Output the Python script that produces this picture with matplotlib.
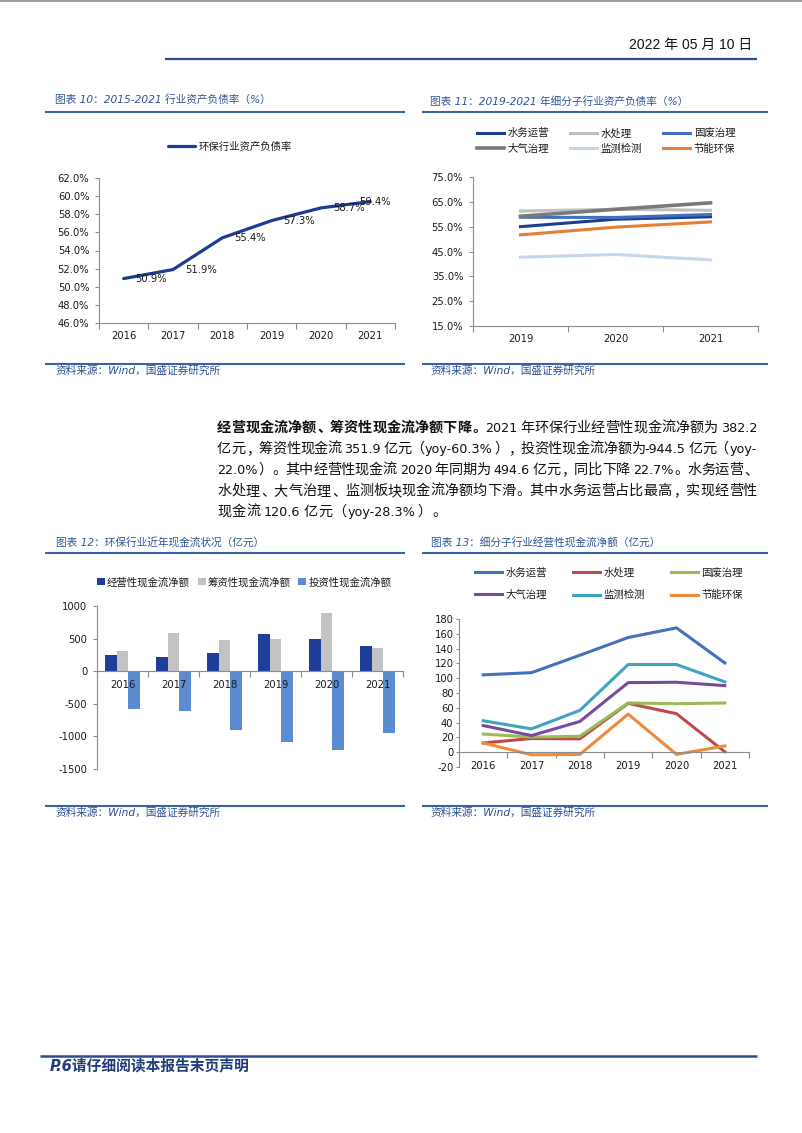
import matplotlib
matplotlib.use('Agg')
import matplotlib.pyplot as plt
from matplotlib.lines import Line2D
from matplotlib.ticker import FuncFormatter
import numpy as np

# ---------------- data ----------------
years = ['2016', '2017', '2018', '2019', '2020', '2021']
industry_debt_ratio = [50.9, 51.9, 55.4, 57.3, 58.7, 59.4]
debt_ratio_label = '环保行业资产负债率'

sub_years = ['2019', '2020', '2021']
sub_names = ['水务运营', '水处理', '固废治理', '大气治理', '监测检测', '节能环保']
ratio_water_ops = [55.0, 58.0, 59.0]
ratio_water_treat = [61.3, 62.0, 61.6]
ratio_solid_waste = [58.8, 58.7, 59.9]
ratio_air = [59.2, 62.0, 64.6]
ratio_monitor = [42.7, 43.8, 41.6]
ratio_energy = [51.7, 54.8, 56.9]

cf_labels = ['经营性现金流净额', '筹资性现金流净额', '投资性现金流净额']
cf_operating = [242, 212, 282, 563, 494.6, 382.2]
cf_financing = [312, 580, 482, 497, 886, 351.9]
cf_investing = [-575, -613, -905, -1090, -1211, -944.5]

cf_water_ops = [104.5, 107.5, 131, 155, 168, 120.6]
cf_water_treat = [12.5, 18.5, 18, 66, 52, 0.5]
cf_solid_waste = [24.5, 20.5, 21.5, 66.5, 65.5, 66.5]
cf_air = [36, 22.5, 41.5, 94, 94.5, 90]
cf_monitor = [42.5, 31.5, 56.5, 118.5, 118.5, 95]
cf_energy = [12.5, -3.5, -3, 51.5, -3, 8.5]

titles = ['图表 10：2015-2021 行业资产负债率（%）',
          '图表 11：2019-2021 年细分子行业资产负债率（%）',
          '图表 12：环保行业近年现金流状况（亿元）',
          '图表 13：细分子行业经营性现金流净额（亿元）']
source_text = '资料来源：Wind，国盛证券研究所'
date_text = '2022 年 05 月 10 日'
footer_text = 'P.6请仔细阅读本报告末页声明'
paragraph = [
    [('经营现金流净额、筹资性现金流净额下降。', 'bold'), ('2021 年环保行业经营性现金流净额为 382.2', 'normal')],
    [('亿元，筹资性现金流 351.9 亿元（yoy-60.3%），投资性现金流净额为-944.5 亿元（yoy-', 'normal')],
    [('22.0%）。其中经营性现金流 2020 年同期为 494.6 亿元，同比下降 22.7%。水务运营、', 'normal')],
    [('水处理、大气治理、监测板块现金流净额均下滑。其中水务运营占比最高，实现经营性', 'normal')],
    [('现金流 120.6 亿元（yoy-28.3%）。', 'normal')],
]

# ---------------- style ----------------
CJK = ['Noto Sans CJK SC', 'DejaVu Sans']
LAT = ['DejaVu Sans', 'Noto Sans CJK SC']
plt.rcParams['font.family'] = LAT
plt.rcParams['axes.unicode_minus'] = False

SPINE = '#8c8c8c'
TICKC = '#1a1a1a'
TITLE_C = '#2F5597'
RULE_C = '#3A62A7'

W, H = 802, 1133
fig = plt.figure(figsize=(W / 100, H / 100), dpi=100)
fig.patch.set_facecolor('white')


def fx(px):
    return px / W


def fy(py):
    return 1 - py / H


def rule(x0, x1, y, color, lw):
    fig.add_artist(Line2D([fx(x0), fx(x1)], [fy(y), fy(y)], transform=fig.transFigure,
                          color=color, lw=lw, solid_capstyle='butt'))


def ftext(x, y, s, **kw):
    return fig.text(fx(x), fy(y), s, **kw)


def add_ax(l, t, r, b):
    return fig.add_axes([fx(l), fy(b), (r - l) / W, (b - t) / H])


def base_axes(ax, cats, zero_spine=False, xpad=6, ypad=3, ylen=3):
    n = len(cats)
    for s in ['top', 'right']:
        ax.spines[s].set_visible(False)
    for s in ['left', 'bottom']:
        ax.spines[s].set_color(SPINE)
        ax.spines[s].set_linewidth(0.8)
    if zero_spine:
        ax.spines['bottom'].set_position(('data', 0))
    ax.set_xlim(-0.5, n - 0.5)
    ax.set_xticks(np.arange(n + 1) - 0.5)
    ax.set_xticklabels([])
    ax.set_xticks(np.arange(n), minor=True)
    ax.set_xticklabels(cats, minor=True)
    ax.tick_params(axis='x', which='major', length=4, color=SPINE, width=0.8)
    ax.tick_params(axis='x', which='minor', length=0, pad=xpad, labelsize=7.2, labelcolor=TICKC)
    ax.tick_params(axis='y', length=ylen, color=SPINE, width=0.8, labelsize=7.2,
                   labelcolor=TICKC, pad=ypad)
    ax.patch.set_alpha(0)


def legend(ax, x, y, ncol, hl, htp, cs, ls, rowmajor=False, **kw):
    handles, labels = ax.get_legend_handles_labels()
    if rowmajor:
        nrow = int(np.ceil(len(handles) / ncol))
        order = [r * ncol + c for c in range(ncol) for r in range(nrow) if r * ncol + c < len(handles)]
        handles = [handles[i] for i in order]
        labels = [labels[i] for i in order]
    leg = ax.legend(handles, labels, loc='center left', bbox_to_anchor=(fx(x), fy(y)),
                    bbox_transform=fig.transFigure, ncol=ncol, frameon=False,
                    prop={'family': CJK, 'size': 7.5}, handlelength=hl, handletextpad=htp,
                    columnspacing=cs, labelspacing=ls, borderpad=0, borderaxespad=0, **kw)
    for t in leg.get_texts():
        t.set_color(TICKC)
    return leg


# ---------------- page decoration ----------------
fig.add_artist(Line2D([0, 1], [fy(0.6), fy(0.6)], transform=fig.transFigure, color='#8a8a8a', lw=1.2))
ftext(752, 45, date_text, ha='right', va='center', fontsize=10,
      family=['Liberation Sans', 'Noto Sans CJK SC'], color='#111111')
rule(165, 757, 59, '#2B4C94', 1.6)
rule(40, 757, 1056, '#2B4C94', 1.8)
ftext(50, 1066, footer_text, ha='left', va='center', fontsize=10.6, weight='bold', style='italic',
      color='#1F3C7A', family=LAT)

# chart headers / sources
for (x, y, tl), t in zip([(55, 100, (45, 405, 112)), (430, 101, (422, 768, 112)),
                          (56, 542, (45, 405, 553)), (431, 542, (422, 768, 553))], titles):
    ftext(x, y, t, ha='left', va='center', fontsize=7.7, style='italic', color=TITLE_C, family=LAT)
    rule(tl[0], tl[1], tl[2], RULE_C, 1.5)
for (x, y, x0, x1, yl) in [(55, 371, 45, 405, 364), (430, 371, 422, 768, 364),
                           (55, 813, 45, 405, 806), (430, 813, 422, 768, 806)]:
    rule(x0, x1, yl, RULE_C, 1.5)
    ftext(x, y, source_text, ha='left', va='center', fontsize=7.7, style='italic',
          color='#2E4F92', family=LAT)

# ---------------- chart 10 ----------------
ax1 = add_ax(99, 178, 395, 323)
base_axes(ax1, years, xpad=6, ypad=4, ylen=3)
xi = np.arange(len(years))
ax1.plot(xi, industry_debt_ratio, color='#1F3A93', lw=2.3, label=debt_ratio_label,
         solid_capstyle='round')
ax1.set_ylim(46, 62)
ax1.set_yticks(np.arange(46, 62.1, 2))
ax1.yaxis.set_major_formatter(FuncFormatter(lambda v, p: f'{v:.1f}%'))
for i, v in enumerate(industry_debt_ratio):
    dx = 12 if i < len(industry_debt_ratio) - 1 else -11
    ax1.annotate(f'{v:.1f}%', (i, v), xytext=(dx, 0), textcoords='offset pixels',
                 ha='left', va='center', fontsize=7.2, color=TICKC)
legend(ax1, 168, 147, 1, 2.6, 0.3, 1, 0.5)

# ---------------- chart 11 ----------------
ax2 = add_ax(473, 177, 758, 326)
base_axes(ax2, sub_years, xpad=6, ypad=4, ylen=3)
xs = np.arange(len(sub_years))
ratio_series = [ratio_water_ops, ratio_water_treat, ratio_solid_waste, ratio_air,
                ratio_monitor, ratio_energy]
ratio_colors = ['#1C3E8F', '#C0C0C0', '#4070C0', '#7A7A7A', '#C6D6EC', '#E47F36']
ratio_lw = [2.2, 2.2, 2.2, 2.6, 2.2, 2.2]
for name, vals, c, lw in zip(sub_names, ratio_series, ratio_colors, ratio_lw):
    ax2.plot(xs, vals, color=c, lw=lw, label=name)
ax2.set_ylim(15, 75)
ax2.set_yticks(np.arange(15, 75.1, 10))
ax2.yaxis.set_major_formatter(FuncFormatter(lambda v, p: f'{v:.1f}%'))
legend(ax2, 477, 141, 3, 2.6, 0.3, 2.06, 0.55, rowmajor=True)

# ---------------- chart 12 ----------------
ax3 = add_ax(97, 606, 403, 769)
base_axes(ax3, years, zero_spine=True, xpad=6, ypad=4, ylen=3)
bw = 0.235
cf_colors = ['#1E3E9A', '#C3C3C3', '#5B8BD0']
for k, (lab, vals, c) in enumerate(zip(cf_labels, [cf_operating, cf_financing, cf_investing], cf_colors)):
    ax3.bar(xi + (k - 1) * bw, vals, width=bw, color=c, label=lab, zorder=1)
ax3.set_ylim(-1500, 1000)
ax3.set_yticks(np.arange(-1500, 1001, 500))
legend(ax3, 97, 582, 3, 0.75, 0.2, 0.75, 0.5, handleheight=0.75)

# ---------------- chart 13 ----------------
ax4 = add_ax(459, 619, 749, 767)
base_axes(ax4, years, zero_spine=True, xpad=6, ypad=2, ylen=2)
cf_series = [cf_water_ops, cf_water_treat, cf_solid_waste, cf_air, cf_monitor, cf_energy]
cf_sub_colors = ['#4571B8', '#BE4B48', '#9BBB59', '#754C9E', '#3DA5BE', '#EE8A3C']
for name, vals, c in zip(sub_names, cf_series, cf_sub_colors):
    ax4.plot(xi, vals, color=c, lw=2.2, label=name)
ax4.set_ylim(-20, 180)
ax4.set_yticks(np.arange(-20, 181, 20))
legend(ax4, 475, 584, 3, 2.6, 0.3, 2.52, 1.15, rowmajor=True)

# ---------------- paragraph (justified) ----------------
renderer = fig.canvas.get_renderer()
CJK_SIZE = 10.2
LAT_SIZE = 9.2
EM = CJK_SIZE * 100 / 72
SPW = 3.0


def tokenize(segments):
    toks = []
    for text, weight in segments:
        buf = ''
        pend = 0
        for c in text:
            if c == ' ':
                if buf:
                    toks.append([buf, weight, True, pend]); buf = ''; pend = 0
                pend += 1
            elif ord(c) < 128:
                buf += c
            else:
                if buf:
                    toks.append([buf, weight, True, pend]); buf = ''; pend = 0
                toks.append([c, weight, False, pend]); pend = 0
        if buf:
            toks.append([buf, weight, True, pend])
    return toks


def para_line(segments, x0, x1, ybase, justify=True):
    toks = tokenize(segments)
    items = []
    for s, w, asc, sp in toks:
        if asc:
            t = fig.text(0, 0, s, fontsize=LAT_SIZE, family=LAT, weight=w, color='#111111',
                         ha='left', va='baseline')
            wd = t.get_window_extent(renderer=renderer).width
            items.append((t, wd, sp, 'asc', s))
        else:
            t = fig.text(0, 0, s, fontsize=CJK_SIZE, family=CJK, weight=w, color='#111111',
                         va='baseline')
            items.append((t, EM, sp, 'cjk', s))
    natural = sum(it[1] for it in items) + SPW * sum(it[2] for it in items)
    extra = (x1 - x0 - natural) / (len(items) - 1) if justify and len(items) > 1 else 0.5
    x = x0
    for t, wd, sp, kind, s in items:
        x += sp * SPW
        if kind == 'asc':
            t.set_ha('left'); t.set_position((fx(x), fy(ybase)))
        elif s in '，。、）：；':
            t.set_ha('left'); t.set_position((fx(x + 0.1 * EM), fy(ybase)))
        elif s == '（':
            t.set_ha('right'); t.set_position((fx(x + 0.9 * EM), fy(ybase)))
        else:
            t.set_ha('center'); t.set_position((fx(x + EM / 2), fy(ybase)))
        x += wd + extra


for i, segs in enumerate(paragraph):
    para_line(segs, 217, 757, 432 + 21 * i, justify=(i < len(paragraph) - 1))

fig.savefig('out.png', dpi=100, facecolor='white')
